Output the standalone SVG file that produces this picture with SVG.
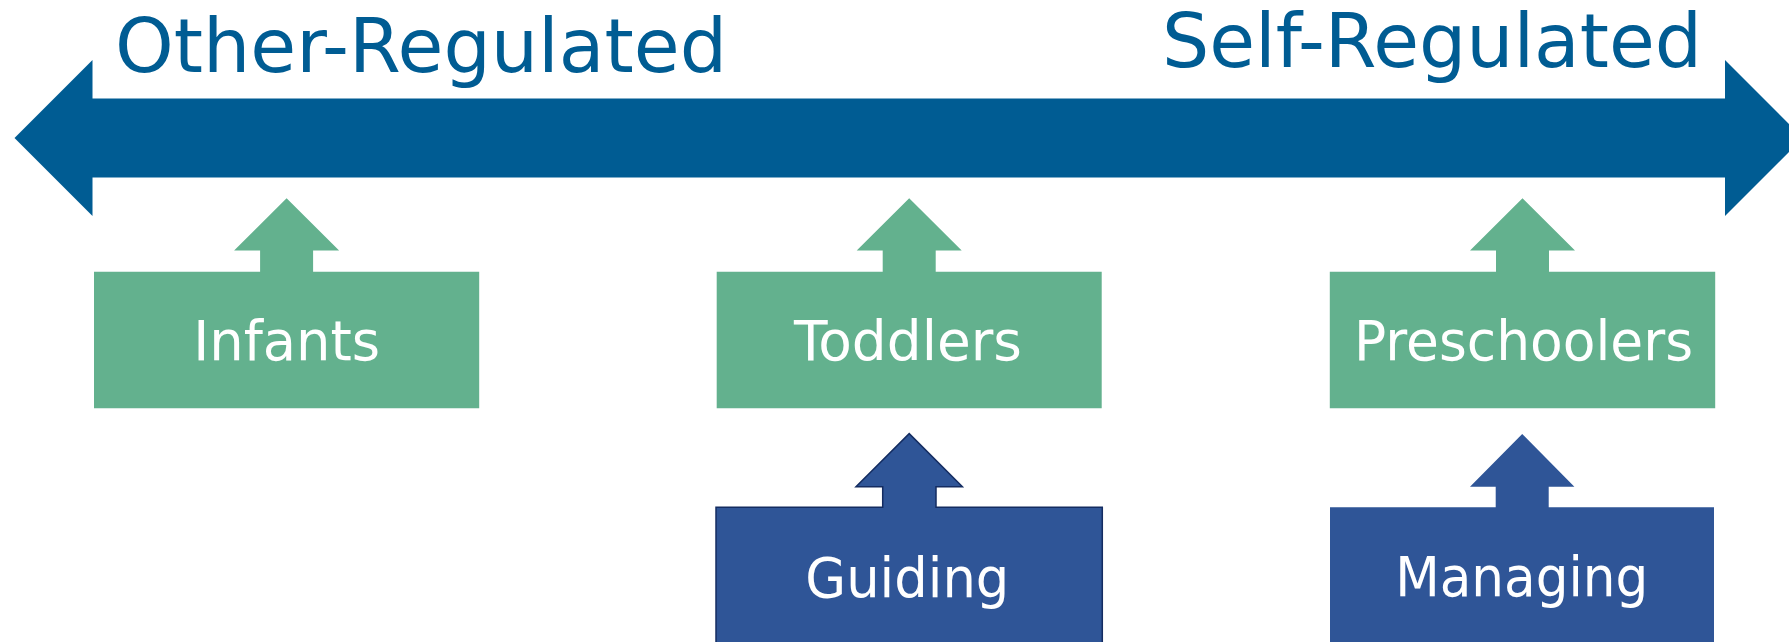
<svg xmlns="http://www.w3.org/2000/svg" width="1789" height="642" viewBox="0 0 1789 642">
  <style>
    .title { font-family: "DejaVu Sans", Verdana, "Liberation Sans", sans-serif; font-size: 75px; fill: #005C93; }
    .label { font-family: "DejaVu Sans", Verdana, "Liberation Sans", sans-serif; font-size: 55px; fill: #FFFFFF; text-anchor: middle; }
    .stage { fill: #63B18E; }
    .role { fill: #2F5597; }
    .role-outlined { fill: #2F5597; stroke: #142C61; stroke-width: 1.5; }
  </style>

  <rect width="1789" height="642" fill="#FFFFFF"/>

  <!-- regulation continuum: double-headed arrow -->
  <g id="continuum">
    <path d="M14.5,138 L92.5,60 L92.5,98.5 L1725,98.5 L1725,60 L1803,138 L1725,216 L1725,177.5 L92.5,177.5 L92.5,216 Z" fill="#005C93"/>
    <text class="title" x="421" y="72.3" text-anchor="middle" textLength="612" lengthAdjust="spacingAndGlyphs">Other-Regulated</text>
    <text class="title" x="1432" y="66.5" text-anchor="middle" textLength="540" lengthAdjust="spacingAndGlyphs">Self-Regulated</text>
  </g>

  <!-- stage boxes, each with an upward arrow on top -->
  <g id="infants">
    <path class="stage" d="M94,271.7 L260.1,271.7 L260.1,250.4 L234.1,250.4 L286.6,198.3 L339.1,250.4 L313.1,250.4 L313.1,271.7 L479.2,271.7 L479.2,408.3 L94,408.3 Z"/>
    <text class="label" x="286.7" y="359.5" textLength="187" lengthAdjust="spacingAndGlyphs">Infants</text>
  </g>

  <g id="toddlers">
    <path class="stage" d="M716.7,271.7 L882.7,271.7 L882.7,250.4 L856.7,250.4 L909.2,198.3 L961.7,250.4 L935.7,250.4 L935.7,271.7 L1101.7,271.7 L1101.7,408.3 L716.7,408.3 Z"/>
    <text class="label" x="908" y="360" textLength="228" lengthAdjust="spacingAndGlyphs">Toddlers</text>
  </g>

  <g id="preschoolers">
    <path class="stage" d="M1329.8,271.7 L1496,271.7 L1496,250.4 L1470,250.4 L1522.5,198.3 L1575,250.4 L1549,250.4 L1549,271.7 L1715.2,271.7 L1715.2,408.3 L1329.8,408.3 Z"/>
    <text class="label" x="1523.5" y="359.5" textLength="339" lengthAdjust="spacingAndGlyphs">Preschoolers</text>
  </g>

  <!-- adult roles below -->
  <g id="guiding">
    <path class="role-outlined" d="M716,507.3 L882.7,507.3 L882.7,486.7 L856,486.7 L909.2,433.6 L962.4,486.7 L936,486.7 L936,507.3 L1102.3,507.3 L1102.3,660 L716,660 Z"/>
    <text class="label" x="907.3" y="596.7" textLength="204" lengthAdjust="spacingAndGlyphs">Guiding</text>
  </g>

  <g id="managing">
    <path class="role" d="M1330,507.3 L1495.7,507.3 L1495.7,486.7 L1470,486.7 L1522.2,434 L1574.4,486.7 L1548.7,486.7 L1548.7,507.3 L1714,507.3 L1714,660 L1330,660 Z"/>
    <text class="label" x="1521.7" y="596" textLength="253" lengthAdjust="spacingAndGlyphs">Managing</text>
  </g>

  <g id="connectors"></g>
</svg>
